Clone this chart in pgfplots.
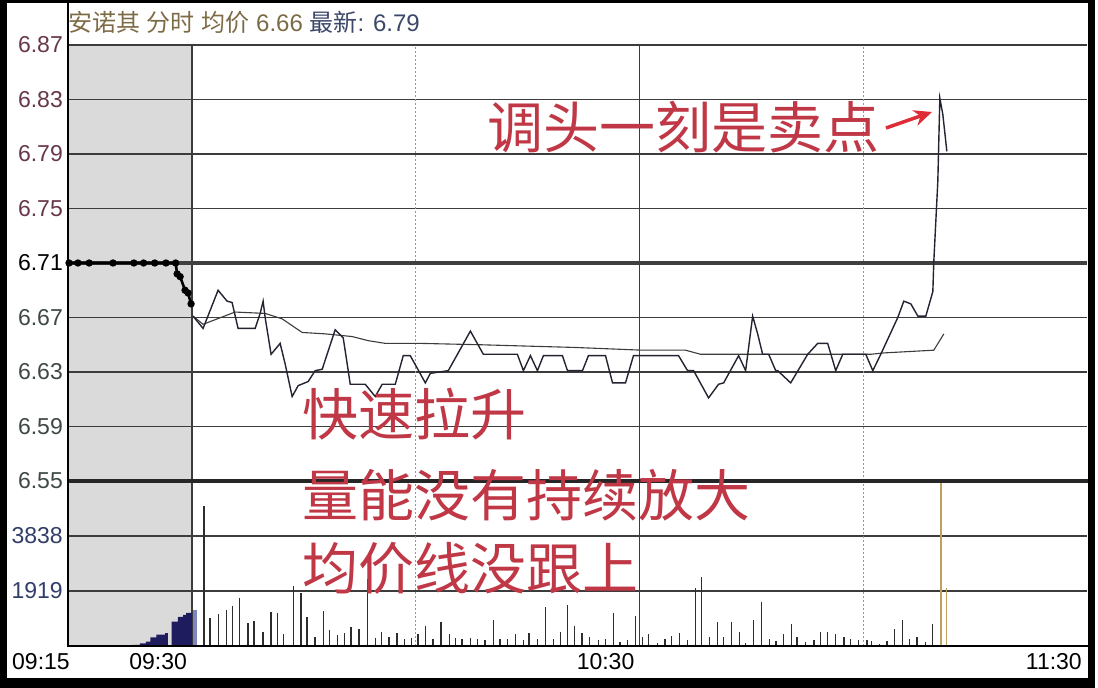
\documentclass[border=0pt]{standalone}
\usepackage{fontspec}
\setmainfont{Liberation Sans}
\newfontfamily\cjk{Noto Sans CJK SC}
\usepackage{pgfplots}
\pgfplotsset{compat=1.18}
\usetikzlibrary{arrows.meta}
\definecolor{preshade}{RGB}{218,218,218}
\definecolor{gridc}{RGB}{60,60,60}
\definecolor{dotc}{RGB}{150,150,150}
\definecolor{pricec}{RGB}{35,35,50}
\definecolor{avgc}{RGB}{60,60,60}
\definecolor{upc}{RGB}{105,55,75}
\definecolor{dnc}{RGB}{62,72,68}
\definecolor{volc}{RGB}{50,62,105}
\definecolor{titc}{RGB}{125,107,70}
\definecolor{newc}{RGB}{60,72,105}
\definecolor{redt}{RGB}{192,55,70}
\definecolor{reda}{RGB}{222,45,55}
\definecolor{navy}{RGB}{30,28,95}
\definecolor{lblue}{RGB}{125,135,190}
\definecolor{tan}{RGB}{190,160,95}
\definecolor{barc}{RGB}{45,45,45}
\pgfplotsset{panel/.style={scale only axis, width=1018pt, xmin=-16.5, xmax=120,
  axis line style={draw=none}, tick pos=left, tick style={draw=none},
  ticklabel style={font=\fontsize{23}{23}\selectfont, inner sep=0pt},
  yticklabel style={anchor=east, xshift=-6pt}, clip=false}}
\begin{document}
\begin{tikzpicture}[x=1pt,y=1pt]
\useasboundingbox (0,0) rectangle (1098,688);
\fill[white] (0,0) rectangle (1098,688);
% ---------- volume panel ----------
\begin{axis}[panel, at={(69pt,42pt)}, anchor=south west, height=165pt,
  ymin=0, ymax=5757,
  ytick={1919,3838}, yticklabels={\textcolor{volc}{1919},\textcolor{volc}{3838}},
  xtick={-15.7,0,60,120}, xticklabels={09:15,09:30,10:30,11:30},
  xticklabel style={anchor=north east, xshift=-5pt, yshift=-7pt}]
\fill[preshade] (axis cs:-16.5,0) rectangle (axis cs:0,5757);
\draw[gridc, line width=1.3pt] (axis cs:-16.5,1919) -- (axis cs:120,1919);
\draw[gridc, line width=1.3pt] (axis cs:-16.5,3838) -- (axis cs:120,3838);
\draw[gridc, line width=1.3pt] (axis cs:0,0) -- (axis cs:0,5757);
\draw[gridc, line width=1.3pt] (axis cs:60,0) -- (axis cs:60,5757);
\draw[dotc, line width=1pt, dash pattern=on 1.5pt off 2.5pt] (axis cs:30,0) -- (axis cs:30,5757);
\draw[dotc, line width=1pt, dash pattern=on 1.5pt off 2.5pt] (axis cs:90,0) -- (axis cs:90,5757);
% pre-market volume
\addplot[ycomb, navy, line width=1pt] coordinates {(-15.6,40) (-14.5,35) (-12.0,40) (-10.5,35) (-9.5,40) (-8.6,40)};
\addplot[const plot, fill=navy, draw=none] coordinates {(-8.0,40) (-7.0,90) (-6.2,150) (-5.6,300) (-4.8,400) (-3.6,450) (-3.25,0) (-2.75,850) (-1.9,1020) (-1.2,1090) (-0.8,1160) (0,1160)} \closedcycle;
\addplot[ycomb, lblue, line width=4pt] coordinates {(0.4,1268)};
% regular session volume
\addplot[ycomb, barc, line width=1.3pt] coordinates {
(1.6,4894) (2.4,986) (3.5,1127) (4.6,1268) (5.4,1408) (6.4,1690) (7.5,810) (8.3,880)
(9.5,493) (10.6,1197) (11.5,1162) (12.3,423) (13.6,2077) (14.6,1866) (15.4,1021) (16.5,317)
(17.6,1232) (18.4,563) (19.5,387) (20.4,458) (21.3,669) (22.4,599) (23.5,2324) (24.6,282)
(25.4,493) (26.4,317) (27.5,458) (28.5,258) (29.4,293) (30.3,411) (31.3,704) (32.3,258)
(33.4,821) (34.5,434) (35.3,293) (36.2,258) (37.3,293) (38.3,258) (39.3,200) (40.4,903)
(41.3,258) (42.3,258) (43.4,411) (44.4,200) (45.2,469) (46.3,258) (47.4,1373) (48.5,258)
(49.4,493) (50.3,1431) (51.3,704) (52.3,469) (53.3,317) (54.5,200) (55.4,258) (56.5,1138)
(57.4,141) (58.4,200) (59.5,1056) (60.4,300) (61.2,434) (62.4,117) (63.4,258) (64.3,352)
(65.4,458) (66.4,200) (67.5,2017) (68.3,2393) (69.4,317) (70.5,845) (71.3,317) (72.3,845)
(73.4,493) (74.2,117) (75.3,903) (76.4,1549) (77.4,258) (78.3,176) (79.3,434) (80.4,751)
(81.1,317) (82.3,141) (83.4,200) (84.3,493) (85.2,493) (86.3,434) (87.4,317) (88.3,258)
(89.4,200) (90.5,200) (91.1,176) (92.2,70) (93.2,176) (94.2,610) (95.3,903) (96.2,258)
(97.2,317) (98.3,141) (99.3,751)};
\addplot[ycomb, tan, line width=1.4pt] coordinates {(100.4,5700) (101.2,2017)};
\end{axis}
% ---------- price panel ----------
\begin{axis}[panel, at={(69pt,207pt)}, anchor=south west, height=476.875pt,
  ymin=6.55, ymax=6.90, xtick=\empty,
  ytick={6.55,6.59,6.63,6.67,6.71,6.75,6.79,6.83,6.87},
  yticklabels={\textcolor{dnc}{6.55},\textcolor{dnc}{6.59},\textcolor{dnc}{6.63},\textcolor{dnc}{6.67},\textcolor{black}{6.71},\textcolor{upc}{6.75},\textcolor{upc}{6.79},\textcolor{upc}{6.83},\textcolor{upc}{6.87}}]
\fill[preshade] (axis cs:-16.5,6.55) rectangle (axis cs:0,6.87);
\pgfplotsinvokeforeach{6.59,6.63,6.67,6.75,6.79,6.83,6.87}{
  \draw[gridc, line width=1.3pt] (axis cs:-16.5,#1) -- (axis cs:120,#1);}
\draw[gridc, line width=1.3pt] (axis cs:0,6.55) -- (axis cs:0,6.87);
\draw[gridc, line width=1.3pt] (axis cs:60,6.55) -- (axis cs:60,6.87);
\draw[dotc, line width=1pt, dash pattern=on 1.5pt off 2.5pt] (axis cs:30,6.55) -- (axis cs:30,6.87);
\draw[dotc, line width=1pt, dash pattern=on 1.5pt off 2.5pt] (axis cs:90,6.55) -- (axis cs:90,6.87);
\draw[black!75, line width=3.5pt] (axis cs:-16.5,6.71) -- (axis cs:120,6.71);
% pre-market auction line
\addplot[black, line width=2.6pt, mark=*, mark size=2.3pt] coordinates {
(-16.5,6.71) (-15.3,6.71) (-13.8,6.71) (-10.6,6.71) (-7.8,6.71) (-6.5,6.71) (-5.0,6.71)
(-3.5,6.71) (-2.2,6.71) (-2.0,6.702) (-1.6,6.700) (-0.94,6.690) (-0.54,6.688) (-0.13,6.680)};
% average price line
\addplot[avgc, line width=1.1pt] coordinates {
(0.13,6.671) (1.48,6.665) (5.77,6.674) (9.80,6.673) (12.08,6.669) (14.77,6.659) (17.85,6.658)
(21.48,6.656) (23.62,6.653) (25.91,6.651) (30.60,6.651) (38.66,6.650) (44.97,6.649)
(51.41,6.648) (60.40,6.646) (66.17,6.646) (68.19,6.643) (72.89,6.643) (78.26,6.643)
(91.01,6.643) (92.75,6.644) (99.46,6.646) (100.81,6.658)};
% price line
\addplot[pricec, line width=1.4pt] coordinates {
(0.13,6.671) (1.48,6.662) (3.49,6.690) (4.70,6.682) (5.37,6.681) (6.17,6.662) (8.46,6.662)
(9.13,6.673) (9.53,6.682) (9.80,6.670) (10.60,6.643) (11.81,6.651) (12.48,6.636) (13.42,6.612)
(14.23,6.620) (15.57,6.623) (16.51,6.631) (17.45,6.632) (19.19,6.661) (20.27,6.655) (20.94,6.631)
(21.21,6.621) (23.22,6.621) (24.56,6.612) (25.50,6.621) (27.25,6.621) (28.32,6.642) (29.26,6.642)
(31.28,6.622) (31.95,6.629) (34.36,6.631) (37.32,6.660) (39.06,6.643) (43.62,6.643) (44.43,6.631)
(45.37,6.642) (46.31,6.631) (47.11,6.642) (49.66,6.642) (50.34,6.631) (52.35,6.631) (53.15,6.642)
(55.44,6.642) (56.38,6.622) (58.12,6.622) (59.19,6.642) (65.23,6.642) (66.44,6.631) (67.25,6.631)
(69.26,6.611) (70.60,6.621) (71.28,6.622) (73.29,6.642) (74.23,6.631) (75.17,6.671) (75.84,6.658)
(76.51,6.643) (77.32,6.643) (78.26,6.631) (78.52,6.631) (80.27,6.622) (82.55,6.643) (83.89,6.651)
(85.23,6.651) (86.31,6.631) (87.25,6.643) (90.34,6.643) (91.28,6.631) (92.35,6.643) (94.63,6.670)
(95.44,6.682) (96.38,6.680) (97.32,6.671) (98.39,6.671) (99.33,6.689) (99.46,6.711) (100.00,6.770)
(100.27,6.831) (100.67,6.819) (101.21,6.792)};
\end{axis}
% ---------- frame lines ----------
\draw[black!85, line width=3.5pt] (69,207) -- (1088,207);
\draw[black, line width=2.5pt] (68,41) -- (68,686);
\draw[black, line width=2pt] (68,42) -- (1088,42);
% ---------- title ----------
\node[anchor=west, inner sep=0pt, font=\fontsize{24}{24}\selectfont] at (68,666)
  {\textcolor{titc}{{\cjk 安诺其} {\cjk 分时} {\cjk 均价} 6.66} \textcolor{newc}{{\cjk 最新}: 6.79}};
% ---------- annotations ----------
\node[anchor=west, inner sep=0pt, text=redt, font=\cjk\fontsize{56}{56}\selectfont] at (487,561) {调头一刻是卖点};
\draw[reda, line width=3.5pt, -{Stealth[length=18pt, width=16pt]}] (886,560) -- (932,576);
\node[anchor=west, inner sep=0pt, text=redt, font=\cjk\fontsize{56}{56}\selectfont] at (302,274) {快速拉升};
\node[anchor=west, inner sep=0pt, text=redt, font=\cjk\fontsize{56}{56}\selectfont] at (302,193) {量能没有持续放大};
\node[anchor=west, inner sep=0pt, text=redt, font=\cjk\fontsize{56}{56}\selectfont] at (302,120) {均价线没跟上};
% ---------- outer frame ----------
\fill[black] (0,0) rectangle (7,688);
\fill[black] (0,0) rectangle (1095,10);
\fill[black] (1088,0) rectangle (1095,688);
\fill[black] (0,685) rectangle (1095,688);
\end{tikzpicture}
\end{document}
